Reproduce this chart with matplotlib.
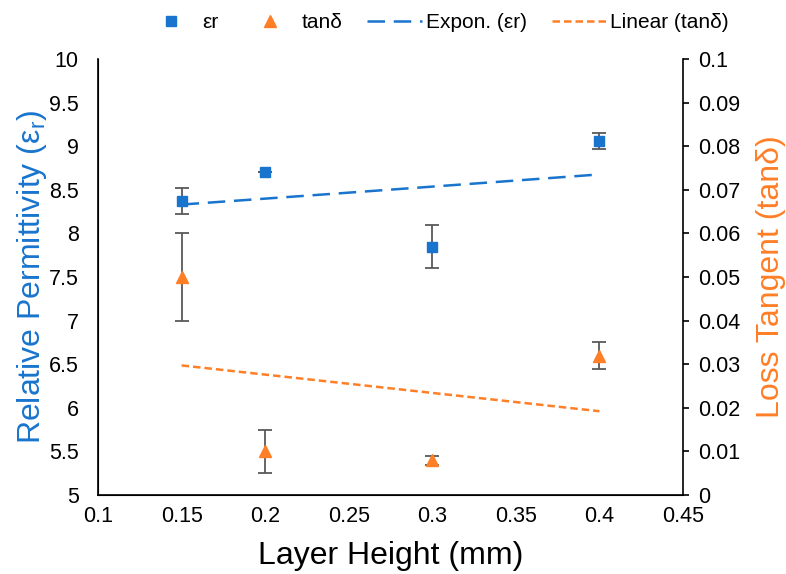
import numpy as np
import matplotlib
matplotlib.use('Agg')
import matplotlib.pyplot as plt
from matplotlib.lines import Line2D

plt.rcParams['font.family'] = ['Liberation Sans', 'DejaVu Sans']

# Data
layer_height = [0.15, 0.2, 0.3, 0.4]
er = [8.37, 8.71, 7.85, 9.06]
er_err = [0.15, 0.0, 0.25, 0.09]
tand = [0.050, 0.010, 0.008, 0.032]
tand_err = [0.010, 0.005, 0.001, 0.003]

blue = '#1874CD'
orange = '#FF7F27'
errcol = '#595959'

fig = plt.figure(figsize=(7.86, 5.74), dpi=100)
ax = fig.add_axes([0.1247, 0.1376, 0.7443, 0.7594])
ax2 = ax.twinx()

# Trendlines (Excel style: exponential for er, linear for tan d)
x = np.array(layer_height)
xf = np.linspace(x.min(), x.max(), 50)
b, a = np.polyfit(x, np.log(er), 1)
m, c = np.polyfit(x, tand, 1)

l3, = ax.plot(xf, np.exp(a) * np.exp(b * xf), color=blue, lw=1.8,
              dashes=(7, 3.5), zorder=2)
l4, = ax2.plot(xf, m * xf + c, color=orange, lw=1.8,
               dashes=(3, 1.6), zorder=2)

ax.errorbar(layer_height, er, yerr=er_err, fmt='s', color=blue, ms=7,
            ecolor=errcol, elinewidth=1.3, capsize=5, capthick=1.3, zorder=3)
ax2.errorbar(layer_height, tand, yerr=tand_err, fmt='^', color=orange, ms=8,
             ecolor=errcol, elinewidth=1.3, capsize=5, capthick=1.3, zorder=3)

ax.set_xlim(0.1, 0.45)
ax.set_ylim(5, 10)
ax2.set_ylim(0, 0.1)
ax.set_xticks(np.arange(0.1, 0.451, 0.05))
ax.set_xticklabels(['0.1', '0.15', '0.2', '0.25', '0.3', '0.35', '0.4', '0.45'])
ax.set_yticks(np.arange(5, 10.01, 0.5))
ax.set_yticklabels(['5', '5.5', '6', '6.5', '7', '7.5', '8', '8.5', '9', '9.5', '10'])
ax2.set_yticks(np.arange(0, 0.1001, 0.01))
ax2.set_yticklabels(['0', '0.01', '0.02', '0.03', '0.04', '0.05', '0.06',
                     '0.07', '0.08', '0.09', '0.1'])

for a_ in (ax, ax2):
    a_.spines['top'].set_visible(False)
ax.spines['right'].set_visible(False)
ax.tick_params(axis='x', length=0, labelsize=15.5, pad=8)
ax.tick_params(axis='y', length=0, labelsize=15.5, pad=14)
ax2.tick_params(axis='y', length=4, width=1.2, labelsize=15.5, pad=7)
ax2.spines['right'].set_linewidth(1.2)
ax.spines['left'].set_linewidth(1.2)
ax.spines['bottom'].set_linewidth(1.2)

ax.set_xlabel('Layer Height (mm)', fontsize=23, labelpad=10)
ax.set_ylabel('Relative Permittivity (ε$_\\mathregular{r}$)', fontsize=23,
              color=blue, labelpad=0)
ax2.set_ylabel('Loss Tangent (tanδ)', fontsize=23, color=orange, labelpad=11)

h1 = Line2D([], [], ls='none', marker='s', color=blue, ms=7)
h2 = Line2D([], [], ls='none', marker='^', color=orange, ms=8)
fig.legend([h1, h2, l3, l4], ['εr', 'tanδ', 'Expon. (εr)', 'Linear (tanδ)'],
           loc='upper center', bbox_to_anchor=(0.555, 1.01), ncol=4, frameon=False,
           fontsize=15, handlelength=2.6, columnspacing=1.2, handletextpad=0.2)

plt.savefig('out.png', dpi=100)
